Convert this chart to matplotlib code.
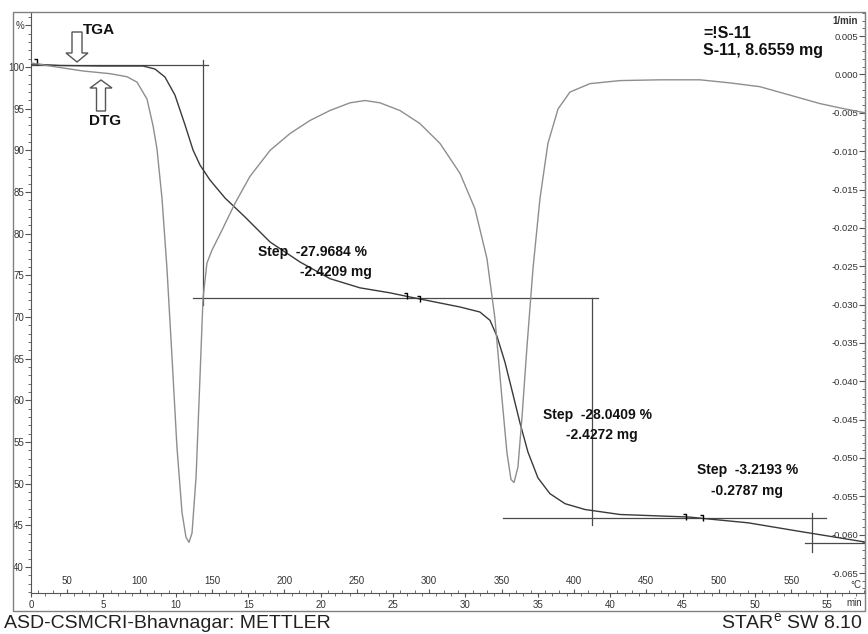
import matplotlib
matplotlib.use("Agg")
import matplotlib.pyplot as plt
from matplotlib.patches import Rectangle, FancyArrow
from matplotlib.path import Path
from matplotlib.transforms import IdentityTransform
from matplotlib.ticker import MultipleLocator, FuncFormatter

plt.rcParams['font.family'] = ['Liberation Sans', 'DejaVu Sans']
plt.rcParams['mathtext.fontset'] = 'custom'
plt.rcParams['mathtext.rm'] = 'Liberation Sans'

# TGA curve: time (min), mass (%)
tga_time = [0.0, 2.0, 4.77, 7.73, 8.56, 9.25, 9.94, 10.64, 11.19, 11.67, 12.36,
            13.4, 14.78, 16.51, 18.58, 20.65, 22.72, 24.79, 26.17, 27.56, 29.63,
            31.0, 31.7, 32.18, 32.73, 33.29, 33.77, 34.32, 35.01, 35.84, 36.88,
            38.26, 40.68, 45.4, 49.54, 52.99, 57.6]
tga_mass = [100.36, 100.18, 100.12, 100.12, 99.76, 98.8, 96.64, 93.04, 90.04, 88.24, 86.44,
            84.28, 82.0, 79.0, 76.6, 74.6, 73.5, 72.9, 72.4, 71.92, 71.2,
            70.6, 69.6, 67.7, 64.6, 60.7, 57.3, 53.8, 50.7, 48.8, 47.6,
            46.9, 46.3, 46.0, 45.3, 44.3, 43.0]

# DTG curve: time (min), rate (1/min)
dtg_time = [0.0, 1.31, 3.59, 5.46, 6.63, 7.32, 8.01, 8.43, 8.7, 9.05, 9.39, 9.74,
            10.08, 10.43, 10.7, 10.91, 11.12, 11.4, 11.67, 11.88, 12.15, 12.5,
            13.19, 14.09, 15.12, 16.51, 17.89, 19.27, 20.65, 22.03, 23.07, 24.1,
            25.48, 26.86, 28.25, 29.63, 30.66, 31.49, 32.04, 32.52, 32.87, 33.15,
            33.36, 33.63, 33.91, 34.25, 34.67, 35.15, 35.7, 36.4, 37.22, 38.6,
            40.68, 43.44, 46.2, 48.27, 50.35, 52.42, 54.49, 56.22, 57.6]
dtg_rate = [0.0015, 0.0011, 0.00045, 0.0001, -0.0003, -0.001, -0.0032, -0.0067, -0.0097,
            -0.0162, -0.0253, -0.0369, -0.0486, -0.0571, -0.0603, -0.061, -0.0598,
            -0.0525, -0.0395, -0.0292, -0.0246, -0.0229, -0.0203, -0.0168, -0.0133,
            -0.0099, -0.0077, -0.006, -0.0047, -0.0037, -0.0034, -0.0037, -0.0047,
            -0.0064, -0.009, -0.0129, -0.0175, -0.024, -0.0318, -0.0421, -0.0493,
            -0.0528, -0.0532, -0.0512, -0.0447, -0.0356, -0.0253, -0.0162, -0.009,
            -0.0045, -0.0023, -0.0012, -0.0008, -0.0007, -0.0007, -0.0011, -0.0016,
            -0.0027, -0.0038, -0.0045, -0.005]

# step evaluation construction lines (time, mass)
step_lines = [
    ([0.0, 12.22], [100.2, 100.2]),
    ([11.88, 11.88], [100.84, 71.44]),
    ([11.19, 39.16], [72.28, 72.28]),
    ([38.74, 38.74], [72.28, 45.04]),
    ([32.6, 54.9], [45.88, 45.88]),
    ([53.94, 53.94], [46.48, 41.8]),
    ([53.45, 57.6], [42.88, 42.88]),
]
limit_time = [0.41, 25.97, 26.86, 45.23, 46.41]
limit_mass = [100.6, 72.52, 72.16, 46.0, 45.88]

step_texts = [("Step  -27.9684 %", "-2.4209 mg"),
              ("Step  -28.0409 %", "-2.4272 mg"),
              ("Step  -3.2193 %", "-0.2787 mg")]

W, H = 868, 634
TGA_COL = '#3a3a3a'
DTG_COL = '#8e8e8e'
AX_COL = '#555555'


def fx(px):
    return px / W


def fy(py):
    return 1 - py / H


fig = plt.figure(figsize=(W / 100, H / 100), dpi=100)
fig.add_artist(Rectangle((fx(13), fy(611)), (865 - 13) / W, (611 - 12) / H,
                         transform=fig.transFigure, fill=False, ec='#808080', lw=1))

ax = fig.add_axes([fx(31), fy(593), (865 - 31) / W, (593 - 12) / H])
ax.patch.set_alpha(0)
ax.set_xlim(0, 57.6)
ax.set_ylim(36.88, 106.6)
for s in ['top', 'right']:
    ax.spines[s].set_visible(False)
ax.spines['left'].set_color(AX_COL)
ax.spines['bottom'].set_color(AX_COL)
ax.spines['left'].set_linewidth(0.8)
ax.spines['bottom'].set_linewidth(0.8)

ax.yaxis.set_major_locator(MultipleLocator(5))
ax.yaxis.set_minor_locator(MultipleLocator(1))
ax.yaxis.set_major_formatter(FuncFormatter(lambda v, p: '%' if round(v) == 105 else f"{v:.0f}"))
ax.tick_params(axis='y', which='major', direction='out', length=4, pad=1,
               labelsize=7, color=AX_COL, labelcolor='#333333')
ax.tick_params(axis='y', which='minor', direction='out', length=2, color=AX_COL)

ax.xaxis.set_major_locator(MultipleLocator(5))
ax.xaxis.set_minor_locator(MultipleLocator(1))
ax.tick_params(axis='x', which='major', direction='out', length=3, pad=2,
               labelsize=7, color=AX_COL, labelcolor='#333333')
ax.tick_params(axis='x', which='minor', direction='out', length=2, color=AX_COL)

# temperature scale along the same baseline, 10 K/min from 25 °C
tax = ax.twiny()
tax.set_xlim(25, 25 + 10 * 57.6)
tax.xaxis.set_ticks_position('bottom')
tax.xaxis.set_minor_locator(MultipleLocator(10))
tax.set_xticks([t for t in range(50, 600, 50)])
tax.tick_params(axis='x', which='major', direction='in', length=3, pad=-12,
                labelsize=7, color=AX_COL, labelcolor='#333333')
tax.tick_params(axis='x', which='minor', direction='in', length=2, color=AX_COL)
for s in tax.spines.values():
    s.set_visible(False)

ax2 = ax.twinx()
ax2.set_ylim(-0.0676, 0.00814)
for s in ['top', 'left', 'bottom']:
    ax2.spines[s].set_visible(False)
ax2.spines['right'].set_color('#808080')
ax2.yaxis.set_major_locator(MultipleLocator(0.005))
ax2.yaxis.set_minor_locator(MultipleLocator(0.001))
ax2.yaxis.set_major_formatter(FuncFormatter(
    lambda v, p: "0.000" if abs(v) < 1e-9 else f"{v:.3f}"))
ax2.tick_params(axis='y', which='major', direction='in', length=4, pad=-5,
                labelsize=6.8, color=AX_COL, labelcolor='#333333')
ax2.tick_params(axis='y', which='minor', direction='in', length=2, color=AX_COL)
plt.setp(ax2.get_yticklabels(), ha='right')

# curves
ax.plot(tga_time, tga_mass, color=TGA_COL, lw=1.0, zorder=4)
ax2.plot(dtg_time, dtg_rate, color=DTG_COL, lw=1.0, zorder=3)
for xs, ys in step_lines:
    ax.plot(xs, ys, color='#4a4a4a', lw=0.9, zorder=3)

flag = Path([(0, -1), (0, 1), (-0.8, 1)], [Path.MOVETO, Path.LINETO, Path.LINETO])
ax.plot(limit_time, limit_mass, ls='none', marker=flag, ms=5, mec='black',
        mfc='none', mew=1.0, zorder=5)

# annotations
bold = dict(fontweight='bold', color='#111111', va='center')
fig.text(fx(83), fy(30), "TGA", fontsize=11, **bold)
fig.text(fx(89), fy(121), "DTG", fontsize=11, **bold)
fig.text(fx(703), fy(34), "=!S-11", fontsize=11.5, **bold)
fig.text(fx(703), fy(51), "S-11, 8.6559 mg", fontsize=11.5, **bold)

text_pos = [((258, 252), (300, 272)), ((543, 415), (566, 435)), ((697, 470), (711, 491))]
for (l1, l2), (p1, p2) in zip(step_texts, text_pos):
    fig.text(fx(p1[0]), fy(p1[1]), l1, fontsize=10, **bold)
    fig.text(fx(p2[0]), fy(p2[1]), l2, fontsize=10, **bold)

hollow = dict(fill=False, ec='#555555', lw=1.0, transform=IdentityTransform(),
              length_includes_head=True)
fig.add_artist(FancyArrow(77, H - 32, 0, -30, width=10, head_width=22,
                          head_length=9, **hollow))
fig.add_artist(FancyArrow(101, H - 111, 0, 31, width=9, head_width=22,
                          head_length=8, **hollow))

small = dict(fontsize=7, color='#333333', va='center')
fig.text(fx(858), fy(21), "1/min", ha='right', fontweight='bold', **small)
fig.text(fx(861), fy(585), "°C", ha='right', **small)
fig.text(fx(862), fy(603), "min", ha='right', **small)

fig.text(fx(4), fy(623), "ASD-CSMCRI-Bhavnagar: METTLER", fontsize=14,
         color='#222222', va='center')
fig.text(fx(863), fy(623), r"STAR$^{\mathrm{e}}$ SW 8.10", fontsize=14,
         color='#222222', va='center', ha='right')

fig.savefig("out.png", dpi=100)
